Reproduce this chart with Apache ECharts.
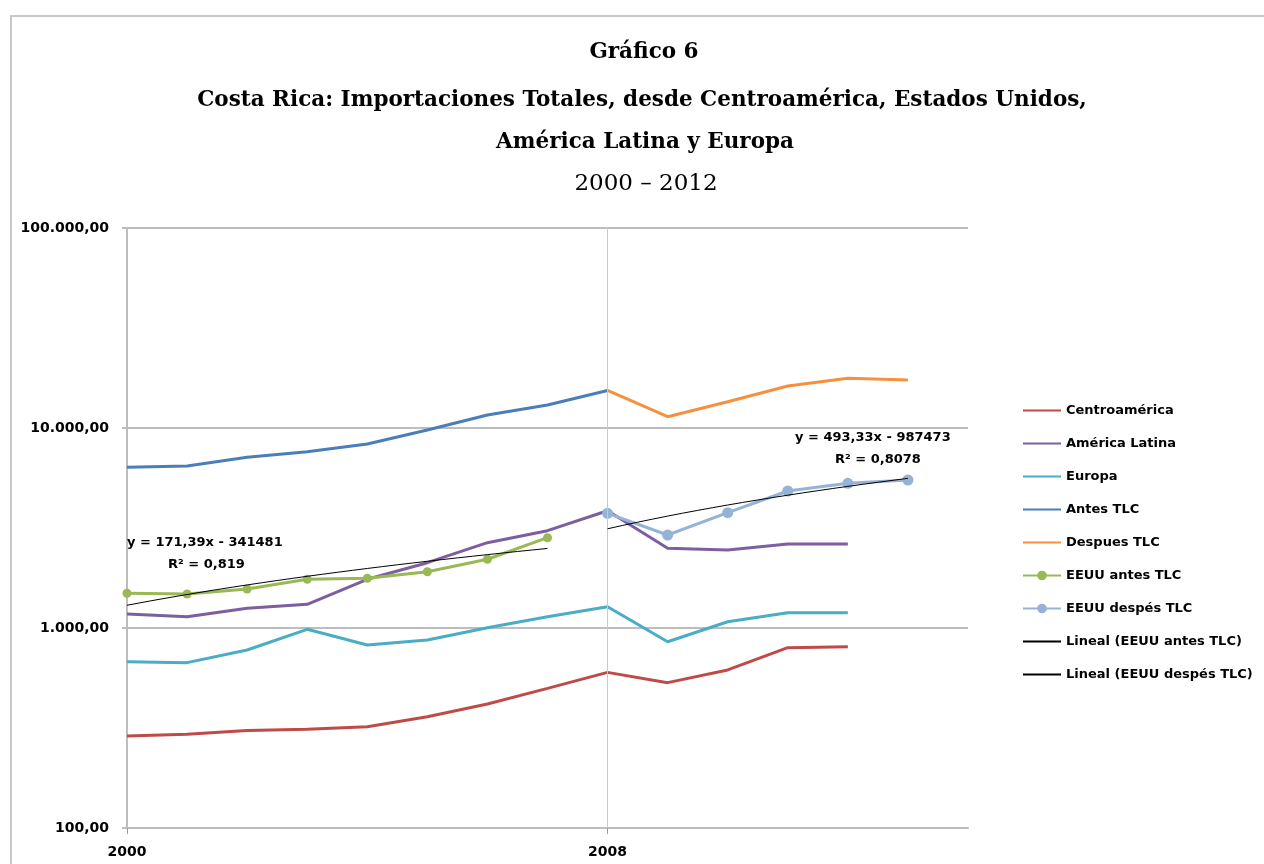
<!DOCTYPE html>
<html>
<head>
<meta charset="utf-8">
<script src="https://cdn.jsdelivr.net/npm/echarts@6/dist/echarts.min.js"></script>
<style>
  html, body { margin: 0; padding: 0; background: #fff; overflow: hidden; }
  #frame { position: absolute; left: 10px; top: 15px; width: 1400px; height: 1000px; border: 2px solid #C8C8C8; box-sizing: border-box; }
  #chart { position: absolute; left: 0; top: 0; width: 1264px; height: 864px; }
</style>
</head>
<body>
<div id="frame"></div>
<div id="chart"></div>
<script>
// ---- Data ----
const yearsAll = [2000, 2001, 2002, 2003, 2004, 2005, 2006, 2007, 2008, 2009, 2010, 2011, 2012];
const centroamerica = [288, 294, 307, 312, 321, 360, 417, 499, 600, 533, 617, 797, 806];
const americaLatina = [1175, 1139, 1255, 1314, 1752, 2121, 2670, 3066, 3859, 2503, 2455, 2630, 2630];
const europa = [678, 671, 776, 985, 822, 871, 1003, 1139, 1278, 854, 1075, 1193, 1193];

const yearsAntesTLC = [2000, 2001, 2002, 2003, 2004, 2005, 2006, 2007, 2008];
const antesTLC = [6360, 6457, 7137, 7613, 8318, 9772, 11614, 13032, 15400];

const yearsDespuesTLC = [2008, 2009, 2010, 2011, 2012, 2013];
const despuesTLC = [15400, 11389, 13538, 16218, 17724, 17378];

const yearsEEUUAntes = [2000, 2001, 2002, 2003, 2004, 2005, 2006, 2007];
const eeuuAntes = [1491, 1479, 1567, 1752, 1772, 1912, 2206, 2828];

const yearsEEUUDespues = [2008, 2009, 2010, 2011, 2012, 2013];
const eeuuDespues = [3746, 2917, 3772, 4842, 5290, 5495];

// Linear trendlines as printed on the chart: y = slope * year + intercept
const trendAntesCoef = [171.39, -341481];
const trendAntesRange = [2000, 2007];
const trendDespuesCoef = [493.33, -987473];
const trendDespuesRange = [2008, 2013];

const seriesNames = ['Centroamérica', 'América Latina', 'Europa', 'Antes TLC', 'Despues TLC',
  'EEUU antes TLC', 'EEUU despés TLC', 'Lineal (EEUU antes TLC)', 'Lineal (EEUU despés TLC)'];
const markerSeries = ['EEUU antes TLC', 'EEUU despés TLC'];
const yTickLabels = ['100,00', '1.000,00', '10.000,00', '100.000,00'];
const xTickLabels = [2000, 2008];
const eqAntes = ['y = 171,39x - 341481', 'R² = 0,819'];
const eqDespues = ['y = 493,33x - 987473', 'R² = 0,8078'];

// ---- Helpers ----
function pairs(xs, ys) { return xs.map((x, i) => [x, ys[i]]); }
function trend(coef, range) {
  const out = [];
  for (let x = range[0]; x <= range[1] + 1e-9; x += 0.25) out.push([x, coef[0] * x + coef[1]]);
  return out;
}
function fmtY(v) {
  const idx = Math.round(Math.log10(v)) - 2;
  return yTickLabels[idx] !== undefined ? yTickLabels[idx] : '';
}

const FONT = 'DejaVu Sans';
const chart = echarts.init(document.getElementById('chart'), null, { renderer: 'canvas' });

function lineSeries(name, data, color, extra) {
  return Object.assign({
    name: name, type: 'line', data: data, symbol: 'none',
    lineStyle: { color: color, width: 3 }, itemStyle: { color: color },
    smooth: false, z: 3
  }, extra || {});
}

const titleStyle = { fontFamily: 'DejaVu Serif', fontWeight: 'bold', fontSize: 21.5, color: '#000' };

const option = {
  animation: false,
  backgroundColor: 'transparent',
  title: [
    { text: 'Gráfico 6', left: 639, textAlign: 'center', top: 36, textStyle: titleStyle },
    { text: 'Costa Rica: Importaciones Totales, desde Centroamérica, Estados Unidos,', left: 637, textAlign: 'center', top: 84, textStyle: titleStyle },
    { text: 'América Latina y Europa', left: 640, textAlign: 'center', top: 126, textStyle: titleStyle },
    { text: '2000 – 2012', left: 641, textAlign: 'center', top: 168,
      textStyle: { fontFamily: 'DejaVu Serif', fontWeight: 'normal', fontSize: 23, color: '#000' } }
  ],
  grid: { left: 127, right: 296, top: 228, bottom: 36, containLabel: false },
  legend: {
    orient: 'vertical', left: 1017, top: 399,
    itemWidth: 38, itemHeight: 12, itemGap: 20,
    data: seriesNames.map(n => markerSeries.indexOf(n) >= 0 ? { name: n } :
      { name: n, itemStyle: { color: 'rgba(0,0,0,0)', borderColor: 'rgba(0,0,0,0)', borderWidth: 0 } }),
    textStyle: { fontFamily: FONT, fontWeight: 'bold', fontSize: 13, color: '#000' },
    selectedMode: false
  },
  xAxis: {
    type: 'value', min: 2000, max: 2014,
    axisLine: { show: true, lineStyle: { color: '#BDBDBD', width: 2 } },
    axisTick: { show: true, length: 6, customValues: xTickLabels, lineStyle: { color: '#9A9A9A', width: 1 } },
    axisLabel: { customValues: xTickLabels, margin: 17, fontFamily: FONT, fontWeight: 'bold', fontSize: 14, color: '#000',
      formatter: v => String(v) },
    splitLine: { show: false }
  },
  yAxis: {
    type: 'log', logBase: 10, min: 100, max: 100000,
    axisLine: { show: true, lineStyle: { color: '#BDBDBD', width: 2 } },
    axisTick: { show: true, length: 5, lineStyle: { color: '#BDBDBD', width: 2 } },
    axisLabel: { margin: 18, fontFamily: FONT, fontWeight: 'bold', fontSize: 14, color: '#000', formatter: fmtY },
    splitLine: { show: true, lineStyle: { color: '#BDBDBD', width: 2 } }
  },
  series: [
    lineSeries(seriesNames[0], pairs(yearsAll, centroamerica), '#BE4B48', {
      markLine: {
        silent: true, symbol: ['none', 'none'], label: { show: false },
        lineStyle: { color: '#B9CDEB', width: 1, type: 'solid' },
        data: [{ xAxis: 2008 }]
      }
    }),
    lineSeries(seriesNames[1], pairs(yearsAll, americaLatina), '#7D5FA0'),
    lineSeries(seriesNames[2], pairs(yearsAll, europa), '#4AACC5'),
    lineSeries(seriesNames[3], pairs(yearsAntesTLC, antesTLC), '#4A7EBB'),
    lineSeries(seriesNames[4], pairs(yearsDespuesTLC, despuesTLC), '#F5913E'),
    lineSeries(seriesNames[5], pairs(yearsEEUUAntes, eeuuAntes), '#98B954', {
      symbol: 'circle', symbolSize: 9, showSymbol: true, z: 4
    }),
    lineSeries(seriesNames[6], pairs(yearsEEUUDespues, eeuuDespues), '#95B3D7', {
      symbol: 'circle', symbolSize: 11, showSymbol: true, z: 4
    }),
    lineSeries(seriesNames[7], trend(trendAntesCoef, trendAntesRange), '#000', {
      lineStyle: { color: '#000', width: 1 }, z: 5
    }),
    lineSeries(seriesNames[8], trend(trendDespuesCoef, trendDespuesRange), '#000', {
      lineStyle: { color: '#000', width: 1 }, z: 5
    })
  ],
  graphic: [
    { type: 'text', left: 127, top: 536, z: 10,
      style: { text: eqAntes[0], fontFamily: FONT, fontWeight: 'bold', fontSize: 13, fill: '#000' } },
    { type: 'text', left: 168, top: 558, z: 10,
      style: { text: eqAntes[1], fontFamily: FONT, fontWeight: 'bold', fontSize: 13, fill: '#000' } },
    { type: 'text', left: 795, top: 431, z: 10,
      style: { text: eqDespues[0], fontFamily: FONT, fontWeight: 'bold', fontSize: 13, fill: '#000' } },
    { type: 'text', left: 835, top: 453, z: 10,
      style: { text: eqDespues[1], fontFamily: FONT, fontWeight: 'bold', fontSize: 13, fill: '#000' } }
  ]
};
chart.setOption(option);
</script>
</body>
</html>
